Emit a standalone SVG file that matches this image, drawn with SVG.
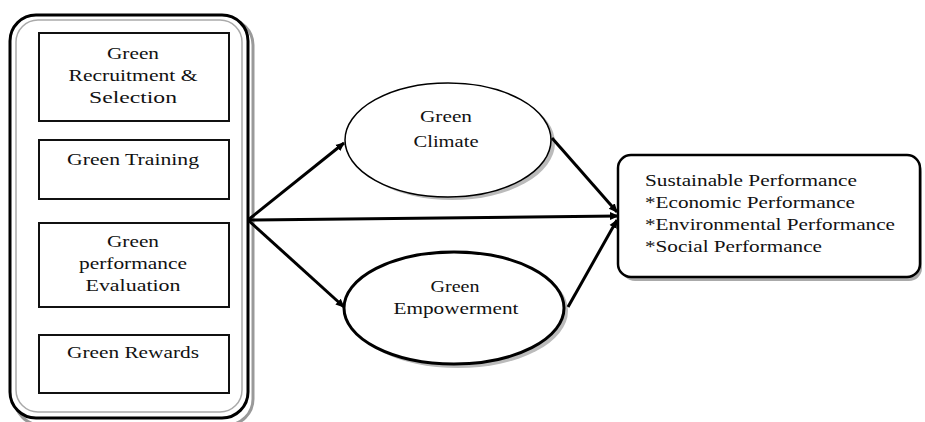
<svg xmlns="http://www.w3.org/2000/svg" width="925" height="422" viewBox="0 0 925 422">
<defs>
<style>
.t{font-family:"Liberation Serif","Times New Roman",serif;font-size:17px;fill:#111;}
.c{text-anchor:middle;}
.box{fill:#fff;stroke:#111;stroke-width:2;}
.sh{fill:none;stroke:#999;stroke-width:3;}
.edge{stroke:#000;stroke-width:3;fill:none;}
</style>
<marker id="ah" markerWidth="10" markerHeight="10" refX="8" refY="5" orient="auto" markerUnits="userSpaceOnUse">
<path d="M0,1 L9,5 L0,9 Z" fill="#000"/>
</marker>
</defs>
<rect width="925" height="422" fill="#fff"/>
<g id="hrm-group">
<rect x="15" y="19" width="238" height="406" rx="26" class="sh"/>
<rect x="10" y="15" width="238" height="403" rx="26" fill="#fff" stroke="#000" stroke-width="3"/>
<rect x="16" y="20" width="226" height="392" rx="22" fill="none" stroke="#aaa" stroke-width="1.5"/>
</g>
<g id="recruitment">
<rect x="39" y="33" width="190" height="88" class="box"/>
<text class="t c" x="133" y="59" textLength="52" lengthAdjust="spacingAndGlyphs">Green</text>
<text class="t c" x="133" y="81" textLength="129" lengthAdjust="spacingAndGlyphs">Recruitment &amp;</text>
<text class="t c" x="133" y="103" textLength="88" lengthAdjust="spacingAndGlyphs">Selection</text>
</g>
<g id="training">
<rect x="39" y="140" width="190" height="59" class="box"/>
<text class="t c" x="133" y="165" textLength="132" lengthAdjust="spacingAndGlyphs">Green Training</text>
</g>
<g id="evaluation">
<rect x="39" y="223" width="190" height="84" class="box"/>
<text class="t c" x="133" y="247" textLength="52" lengthAdjust="spacingAndGlyphs">Green</text>
<text class="t c" x="133" y="269" textLength="108" lengthAdjust="spacingAndGlyphs">performance</text>
<text class="t c" x="133" y="291" textLength="95" lengthAdjust="spacingAndGlyphs">Evaluation</text>
</g>
<g id="rewards">
<rect x="39" y="335" width="190" height="58" class="box"/>
<text class="t c" x="133" y="358" textLength="132" lengthAdjust="spacingAndGlyphs">Green Rewards</text>
</g>
<g id="climate">
<ellipse cx="452" cy="143" rx="103" ry="57" fill="#bbb"/>
<ellipse cx="448" cy="140" rx="103" ry="57" fill="#fff" stroke="#000" stroke-width="1.5"/>
<text class="t c" x="446" y="122" textLength="52" lengthAdjust="spacingAndGlyphs">Green</text>
<text class="t c" x="446" y="147" textLength="65" lengthAdjust="spacingAndGlyphs">Climate</text>
</g>
<g id="empowerment">
<ellipse cx="458" cy="311" rx="110" ry="57" fill="#bbb"/>
<ellipse cx="454" cy="308" rx="110" ry="56" fill="#fff" stroke="#000" stroke-width="3"/>
<text class="t c" x="455" y="292" textLength="49" lengthAdjust="spacingAndGlyphs">Green</text>
<text class="t c" x="456" y="314" textLength="125" lengthAdjust="spacingAndGlyphs">Empowerment</text>
</g>
<g id="sustainable">
<rect x="622" y="159" width="300" height="122" rx="13" fill="#aaa"/>
<rect x="618" y="155" width="302" height="122" rx="13" fill="#fff" stroke="#000" stroke-width="2.5"/>
<text class="t" x="645" y="186" textLength="212" lengthAdjust="spacingAndGlyphs">Sustainable Performance</text>
<text class="t" x="645" y="208" textLength="210" lengthAdjust="spacingAndGlyphs">*Economic Performance</text>
<text class="t" x="645" y="230" textLength="250" lengthAdjust="spacingAndGlyphs">*Environmental Performance</text>
<text class="t" x="645" y="252" textLength="177" lengthAdjust="spacingAndGlyphs">*Social Performance</text>
</g>
<g id="connectors">
<line x1="248" y1="220" x2="344" y2="143" class="edge" marker-end="url(#ah)"/>
<line x1="248" y1="220" x2="344" y2="307" class="edge" marker-end="url(#ah)"/>
<line x1="248" y1="220" x2="618" y2="216" class="edge" marker-end="url(#ah)"/>
<line x1="552" y1="138" x2="617" y2="212" class="edge" marker-end="url(#ah)"/>
<line x1="568" y1="307" x2="617" y2="220" class="edge" marker-end="url(#ah)"/>
</g>
</svg>
